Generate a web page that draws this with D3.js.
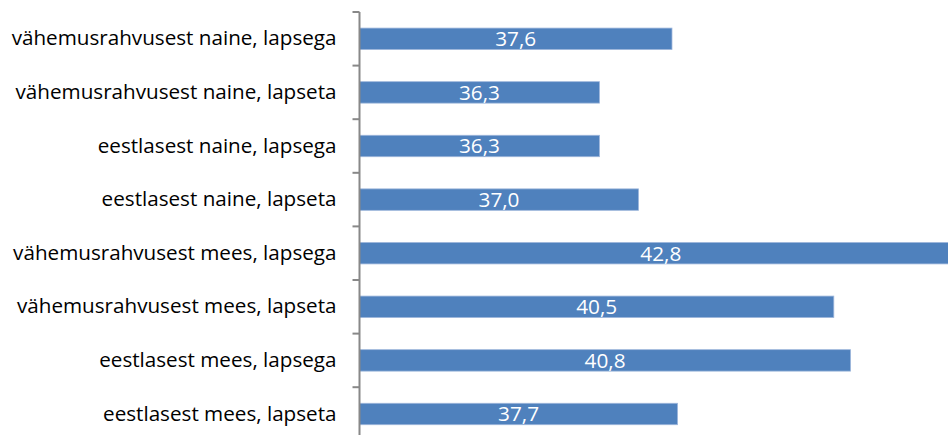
<!DOCTYPE html>
<html><head><meta charset="utf-8">
<script src="https://cdn.jsdelivr.net/npm/d3@7"></script>
<style>html,body{margin:0;padding:0;background:#fff;overflow:hidden}</style>
</head><body>
<svg id="c" width="948" height="435"></svg>
<script>
const categories = [
  "vähemusrahvusest naine, lapsega",
  "vähemusrahvusest naine, lapseta",
  "eestlasest naine, lapsega",
  "eestlasest naine, lapseta",
  "vähemusrahvusest mees, lapsega",
  "vähemusrahvusest mees, lapseta",
  "eestlasest mees, lapsega",
  "eestlasest mees, lapseta"
];
const values = [37.6, 36.3, 36.3, 37.0, 42.8, 40.5, 40.8, 37.7];
const labels = ["37,6", "36,3", "36,3", "37,0", "42,8", "40,5", "40,8", "37,7"];

const svg = d3.select("#c");
const font = "'Open Sans', sans-serif";
const x0 = 359.5;
const x = d3.scaleLinear().domain([32, 44]).range([x0, x0 + 12 * 55.8]);
const y = d3.scaleBand().domain(categories).range([12, 12 + 8 * 53.6]).paddingInner(0.6).paddingOuter(0.3);

// bars
svg.selectAll("rect.bar").data(values).enter().append("rect")
  .attr("class", "bar")
  .attr("x", x(32))
  .attr("y", (d, i) => y(categories[i]))
  .attr("width", d => x(d) - x(32))
  .attr("height", y.bandwidth())
  .attr("fill", "#4F81BD")
  .attr("stroke", "#9DB6DB")
  .attr("stroke-width", 0.8);

// value labels
const vals = svg.selectAll("text.val").data(values).enter().append("text")
  .attr("class", "val")
  .attr("x", d => (x(32) + x(d)) / 2)
  .attr("y", (d, i) => y(categories[i]) + y.bandwidth() / 2)
  .attr("dy", "0.36em")
  .attr("text-anchor", "middle")
  .attr("fill", "#fff")
  .style("font-family", font)
  .style("font-size", "20px")
  .text((d, i) => labels[i]);
const vw = vals.node().getComputedTextLength();
vals.style("font-size", (20 * 41 / vw) + "px");

// axis
const yAxis = d3.axisLeft(y).tickSize(0).tickPadding(23);
const g = svg.append("g").attr("transform", `translate(${x0},0)`).call(yAxis);
g.select(".domain").remove();
const cats = g.selectAll("text").style("font-family", font).style("font-size", "20px").attr("fill", "#000");
const cw = cats.nodes()[0].getComputedTextLength();
cats.style("font-size", (20 * 325 / cw) + "px");

// axis line and ticks between categories
svg.append("line").attr("x1", x0).attr("x2", x0).attr("y1", 12).attr("y2", 435)
  .attr("stroke", "#888").attr("stroke-width", 2);
const tickYs = d3.range(0, 9).map(i => 12 + i * 53.6);
svg.selectAll("line.tk").data(tickYs).enter().append("line")
  .attr("x1", x0 - 7).attr("x2", x0).attr("y1", d => d).attr("y2", d => d)
  .attr("stroke", "#888").attr("stroke-width", 2);
</script>
</body></html>
